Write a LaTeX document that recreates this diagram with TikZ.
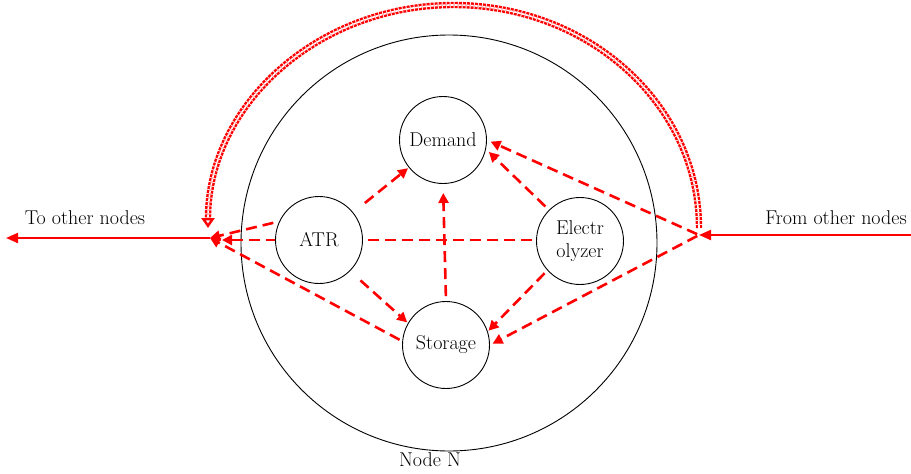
\documentclass[tikz,border=0pt]{standalone}
\usetikzlibrary{arrows.meta}
\begin{document}
\begin{tikzpicture}[x=1pt,y=1pt,
  every node/.style={font=\rmfamily\fontsize{20}{23}\selectfont},
  comp/.style={draw=black,line width=0.9pt,circle,fill=white,minimum size=87pt,inner sep=0pt,align=center},
  flow/.style={draw=red,line width=2.6pt,dash pattern=on 11pt off 6pt,-{Triangle[length=10pt,width=10pt]}},
  extarrow/.style={draw=red,line width=2.1pt,-{Triangle[length=12pt,width=10pt]}},
  backflow/.style={draw=red,line width=2.4pt,double=white,double distance=1.6pt,dash pattern=on 3pt off 1pt,-{Triangle[open,length=10pt,width=13pt]}}
]
\useasboundingbox (0,0) rectangle (911,-474);
% outer node circle
\node[draw=black,line width=0.9pt,circle,minimum size=416pt,inner sep=0pt] (N) at (449,-243) {};
\node (Nlabel) at (430,-460) {Node N};
% hubs
\coordinate (lhub) at (210,-238);
\coordinate (rhub) at (699,-235);
\coordinate (lend) at (6,-238);
\coordinate (rstart) at (911,-235);
% horizontal flow behind ATR
\coordinate (Ewest) at (536,-240);
\coordinate (lhubh) at (210,-240);
\draw[flow,shorten >=12pt,shorten <=4pt] (Ewest) -- (lhubh);
% components
\node[comp] (Demand) at (443,-140) {Demand};
\node[comp] (ATR) at (319,-240) {ATR};
\node[comp] (Elec) at (580,-241) {Electr\\olyzer};
\node[comp] (Storage) at (446,-345) {Storage};
% external arrows
\draw[extarrow] (lhub) -- (lend);
\draw[extarrow] (rstart) -- (rhub);
\node (to) at (85,-218) {To other nodes};
\node (from) at (836,-218) {From other nodes};
% internal flows
\draw[flow,shorten <=15pt,shorten >=1pt] (ATR) -- (Demand);
\draw[flow,shorten <=14pt,shorten >=1pt] (ATR.-45) -- (Storage.150);
\draw[flow,shorten <=6pt] (ATR.155) -- (lhub);
\draw[flow,shorten <=3pt] (Storage.175) -- (lhub);
\draw[flow,shorten <=5pt,shorten >=9pt] (Storage.north) -- (Demand.south);
\draw[flow,shorten <=5pt,shorten >=4pt] (Elec.135) -- (Demand.-12);
\draw[flow,shorten <=2pt,shorten >=4pt] (rhub) -- (Demand.east);
\draw[flow,shorten <=4pt,shorten >=1pt] (Elec.222) -- (Storage.18);
\draw[flow,shorten <=2pt,shorten >=3pt] (rhub) -- (Storage.east);
% exchange arc
\draw[backflow] ([yshift=7pt]rhub) arc[start angle=0,end angle=180,x radius=245.5pt,y radius=223pt];
\end{tikzpicture}
\end{document}
